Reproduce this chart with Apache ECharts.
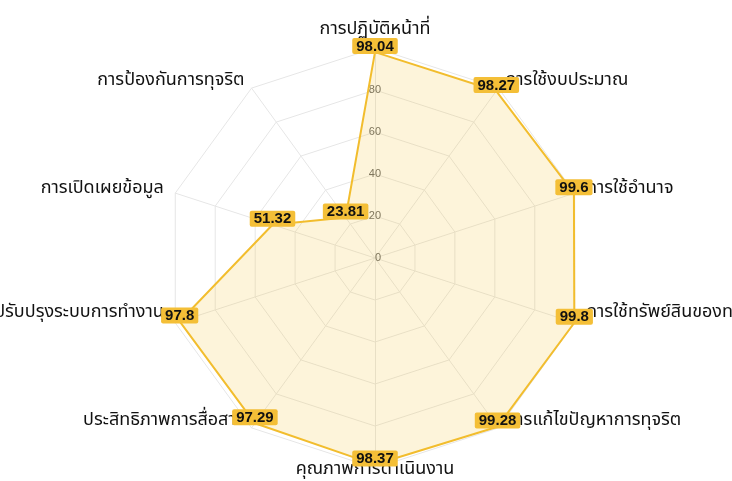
<!DOCTYPE html>
<html>
<head>
<meta charset="utf-8">
<script src="https://cdn.jsdelivr.net/npm/echarts@6/dist/echarts.min.js"></script>
<style>html,body{margin:0;padding:0;background:#fff}#c{width:732px;height:481px}</style>
</head>
<body>
<div id="c"></div>
<script>
// Indicators listed counter-clockwise starting at the top (ECharts radar order)
const indicatorNames = [
  'การปฏิบัติหน้าที่',
  'การป้องกันการทุจริต',
  'การเปิดเผยข้อมูล',
  'การปรับปรุงระบบการทำงาน',
  'ประสิทธิภาพการสื่อสาร',
  'คุณภาพการดำเนินงาน',
  'การแก้ไขปัญหาการทุจริต',
  'การใช้ทรัพย์สินของทางราชการ',
  'การใช้อำนาจ',
  'การใช้งบประมาณ'
];
const scores = [98.04, 23.81, 51.32, 97.8, 97.29, 98.37, 99.28, 99.8, 99.6, 98.27];
const axisMax = 100;

// vertical nudges of the indicator names (rich-text padding), by position index
const namePad = [
  [0, 0, 0, 0],
  [6, 0, 0, 0],
  [0, 0, 0, 0],
  [0, 0, 26, 0],
  [0, 0, 32, 0],
  [0, 0, 0, 0],
  [0, 0, 32, 0],
  [0, 0, 26, 0],
  [0, 0, 0, 0],
  [6, 0, 0, 0]
];
const rich = {};
namePad.forEach((p, i) => { rich['n' + i] = { padding: p, fontSize: 18, color: '#111' }; });

const thaiFont = "'Noto Sans Thai', 'Noto Sans Thai UI', 'Noto Sans', sans-serif";

const chart = echarts.init(document.getElementById('c'));
chart.setOption({
  animation: false,
  textStyle: { fontFamily: thaiFont },
  radar: {
    center: [375, 258],
    radius: 210,
    startAngle: 90,
    splitNumber: 5,
    shape: 'polygon',
    nameGap: 12,
    axisName: {
      color: '#111',
      fontSize: 18,
      fontFamily: thaiFont,
      rich: rich,
      formatter: function (name) {
        const i = indicatorNames.indexOf(name);
        return '{n' + i + '|' + name + '}';
      }
    },
    splitArea: { show: false },
    splitLine: { lineStyle: { color: '#e6e6e6', width: 1 } },
    axisLine: { lineStyle: { color: '#e6e6e6' } },
    axisLabel: { show: false },
    indicator: indicatorNames.map((n, i) => {
      const ind = { name: n, max: axisMax, min: 0 };
      if (i === 0) {
        ind.axisLabel = { show: true, color: '#666', fontSize: 11, margin: -6, showMaxLabel: false, fontFamily: 'Arial, Liberation Sans, sans-serif' };
        ind.nameGap = 9;
      }
      if (i === 5) ind.nameGap = -7;
      return ind;
    })
  },
  series: [{
    type: 'radar',
    symbol: 'circle',
    symbolSize: 0.1,
    itemStyle: { color: '#f2bd2e' },
    lineStyle: { color: '#f2bd2e', width: 2 },
    areaStyle: { color: 'rgba(245,192,46,0.25)' },
    label: {
      show: true,
      position: 'top',
      distance: -2,
      color: '#111',
      fontWeight: 'bold',
      fontSize: 15,
      fontFamily: 'Arial, Liberation Sans, sans-serif',
      backgroundColor: '#f4bf37',
      padding: [1, 4, 0, 4],
      borderRadius: 2
    },
    data: [{ value: scores }]
  }]
});
</script>
</body>
</html>
